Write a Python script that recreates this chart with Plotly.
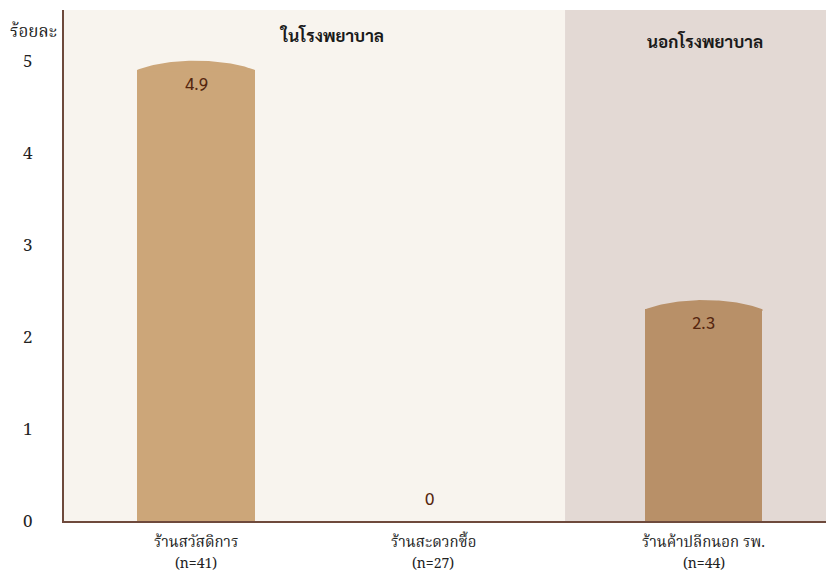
import numpy as np
import plotly.graph_objects as go

# Data
categories = ["ร้านสวัสดิการ", "ร้านสะดวกซื้อ", "ร้านค้าปลีกนอก รพ."]
sample_sizes = [41, 27, 44]
percent = [4.9, 0.0, 2.3]
group_names = ["ในโรงพยาบาล", "นอกโรงพยาบาล"]
y_ticks = [0, 1, 2, 3, 4, 5]

# Layout positions along the x axis
x_pos = [0.0, 1.0, 2.143]
x_range = [-0.557, 2.658]
group_split = 1.557
bar_width = 0.494
dome_height = 0.1

bar_colors = ["#CCA679", "#CCA679", "#B89068"]
label_color = "#55260F"
axis_color = "#6E4A3C"
font_family = "Sarabun, 'Noto Sans Thai Looped', 'Noto Sans Thai', 'Noto Sans', sans-serif"
serif_family = "'Noto Serif Thai', 'Noto Sans Thai Looped', 'Liberation Serif', serif"

fig = go.Figure()

# Bars
fig.add_trace(go.Bar(
    x=x_pos, y=percent, width=bar_width,
    marker=dict(color=bar_colors, line=dict(width=0)),
    hoverinfo="skip", showlegend=False,
))

# Rounded caps on top of each non-zero bar
for xp, v, col in zip(x_pos, percent, bar_colors):
    if v <= 0:
        continue
    half = bar_width / 2
    dx = np.linspace(-half, half, 60)
    a = half * 1.35
    base = np.sqrt(1 - (half / a) ** 2)
    dy = (np.sqrt(1 - (dx / a) ** 2) - base) / (1 - base) * dome_height
    xs = np.concatenate([[xp - half], xp + dx, [xp + half]])
    ys = np.concatenate([[v - 0.02], v + dy, [v - 0.02]])
    fig.add_trace(go.Scatter(
        x=xs, y=ys, mode="lines", fill="toself", fillcolor=col,
        line=dict(width=0, color=col), hoverinfo="skip", showlegend=False,
    ))

# Group background panels
fig.add_shape(type="rect", xref="x", yref="paper", x0=x_range[0], x1=group_split,
              y0=0, y1=1, fillcolor="#F8F4EE", line_width=0, layer="below")
fig.add_shape(type="rect", xref="x", yref="paper", x0=group_split, x1=x_range[1],
              y0=0, y1=1, fillcolor="#E3D9D4", line_width=0, layer="below")

# Value labels
for xp, v in zip(x_pos, percent):
    txt = f"{v:.1f}" if v > 0 else "0"
    if v > 0:
        fig.add_annotation(x=xp, y=v, yanchor="top", yshift=0, text=txt,
                           showarrow=False,
                           font=dict(size=17, color=label_color, family=font_family))
    else:
        fig.add_annotation(x=xp - 0.015, y=v, yanchor="bottom", yshift=10, text=txt,
                           showarrow=False,
                           font=dict(size=17, color=label_color, family=font_family))

# Category labels below the axis (name, then sample size)
for xp, c, n in zip(x_pos, categories, sample_sizes):
    fig.add_annotation(x=xp, y=0, yanchor="middle", yshift=-22, text=c,
                       showarrow=False,
                       font=dict(size=15, color="#222222", family=serif_family))
    fig.add_annotation(x=xp, y=0, yanchor="middle", yshift=-43, text=f"(n={n})",
                       showarrow=False,
                       font=dict(size=14, color="#222222", family=serif_family))

# Group titles
fig.add_annotation(x=0.57, y=1.0, xref="x", yref="paper", yanchor="top", yshift=-12,
                   text=f"<b>{group_names[0]}</b>", showarrow=False,
                   font=dict(size=17, color="#1A1A1A", family=font_family))
fig.add_annotation(x=2.147, y=1.0, xref="x", yref="paper", yanchor="top", yshift=-18,
                   text=f"<b>{group_names[1]}</b>", showarrow=False,
                   font=dict(size=17, color="#1A1A1A", family=font_family))

# Y axis title
fig.add_annotation(x=0, y=1.0, xref="paper", yref="paper", xanchor="center",
                   yanchor="top", xshift=-31, yshift=-7, text="ร้อยละ",
                   showarrow=False,
                   font=dict(size=17, color="#222222", family=serif_family))

fig.update_layout(
    width=826, height=575,
    margin=dict(l=64, r=0, t=10, b=54),
    paper_bgcolor="white", plot_bgcolor="#F8F4EE",
    font=dict(family=font_family, size=15, color="#222222"),
    bargap=0, showlegend=False,
    xaxis=dict(
        range=x_range, tickvals=x_pos, showticklabels=False,
        showgrid=False, zeroline=False, showline=True,
        linecolor=axis_color, linewidth=2, ticks="",
        fixedrange=True,
    ),
    yaxis=dict(
        range=[0, 5.55], tickvals=y_ticks,
        showgrid=False, zeroline=False, showline=True,
        linecolor=axis_color, linewidth=2, ticks="",
        ticklabelstandoff=26,
        tickfont=dict(size=17, color="#222222", family=serif_family),
        fixedrange=True,
    ),
)

fig.write_html("out.html")
